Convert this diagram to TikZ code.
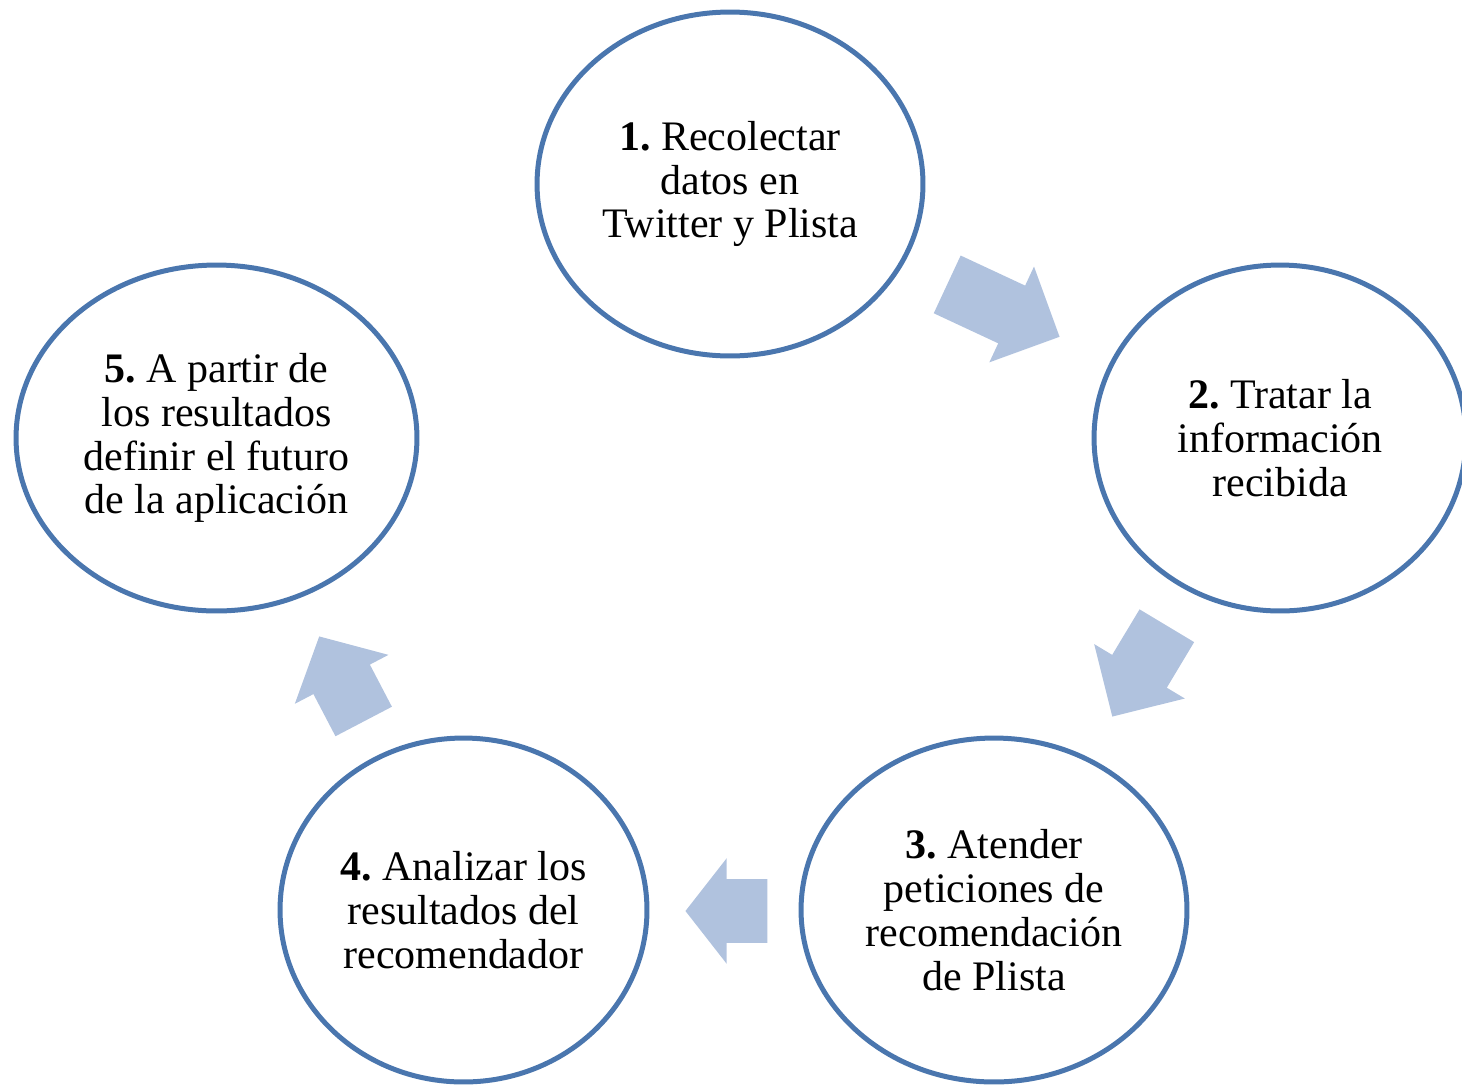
\documentclass[tikz,border=0pt]{standalone}
\usepackage{fontspec}
\setmainfont{Liberation Serif}
\frenchspacing
\usetikzlibrary{shapes.geometric,shapes.arrows}
\definecolor{ringblue}{HTML}{4A76AE}
\definecolor{arrowblue}{HTML}{B0C2DE}
\tikzset{
	paso/.style={ellipse, draw=ringblue, line width=0.1cm, inner sep=0pt, align=center,
		font=\fontsize{23.9}{25}\selectfont, minimum width=7.72cm, minimum height=6.88cm},
	flecha/.style={single arrow, fill=arrowblue, draw=none, inner xsep=0pt, inner ysep=0.63cm,
		anchor=tip, minimum width=2.1cm, single arrow head extend=0.42cm}
}

\begin{document}
\begin{tikzpicture}[x=0.02cm, y=-0.02cm]
		%%%%% START %%%%%
		
		\clip (0, 0) rectangle (1462, 1085);
		
		\node[paso] (p1) at (730, 184) {\textbf{1.} Recolectar\\datos en\\Twitter y Plista};
		\node[paso, minimum width=7.44cm, minimum height=6.92cm] (p2) at (1280, 438) {\textbf{2.} Tratar la\\información\\recibida};
		\node[paso] (p3) at (994, 910) {\textbf{3.} Atender\\peticiones de\\recomendación\\de Plista};
		\node[paso, minimum width=7.34cm] (p4) at (463.5, 910) {\textbf{4.} Analizar los\\resultados del\\recomendador};
		\node[paso, minimum width=8.02cm, minimum height=6.92cm] (p5) at (216.5, 438) {\textbf{5.} A partir de\\los resultados\\definir el futuro\\de la aplicación};
		
		\node[flecha, rotate=-25, minimum height=2.48cm] (f12) at (1060, 337) {};
		\node[flecha, rotate=-121, minimum height=2.12cm] (f23) at (1112, 717) {};
		\node[flecha, rotate=180, minimum height=1.64cm, single arrow tip angle=104] (f34) at (685, 911) {};
		\node[flecha, rotate=117.6, minimum height=1.92cm, single arrow tip angle=95] (f45) at (319, 636) {};
		
		%%%%% END %%%%%
	\end{tikzpicture}
\end{document}
